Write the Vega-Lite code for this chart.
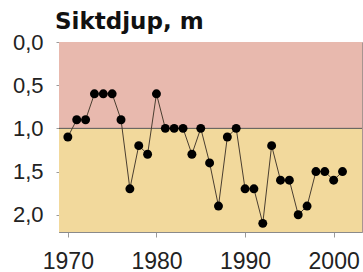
{
  "$schema": "https://vega.github.io/schema/vega-lite/v6.json",
  "width": 303,
  "height": 190,
  "autosize": {"type": "none"},
  "padding": {"left": 59, "top": 42, "right": 1, "bottom": 40},
  "background": "white",
  "config": {
    "view": {"stroke": "#a89490", "strokeWidth": 1},
    "font": "Liberation Sans",
    "axis": {"grid": false, "title": null, "labelFont": "Liberation Sans", "labelColor": "#222222", "domainColor": "#8a8a8a", "tickColor": "#9a9a9a"}
  },
  "title": {"text": "Siktdjup, m", "anchor": "start", "frame": "group", "align": "left", "fontSize": 23, "fontWeight": "bold", "font": "DejaVu Sans", "color": "#111111", "baseline": "alphabetic", "offset": 0, "dx": -4, "dy": 21},
  "layer": [
    {
      "data": {"values": [{"y0": 0, "y1": 1, "zone": "a"}, {"y0": 1, "y1": 2.2, "zone": "b"}]},
      "mark": {"type": "rect"},
      "encoding": {
        "y": {"field": "y0", "type": "quantitative", "scale": {"domain": [0, 2.2], "reverse": true, "nice": false}},
        "y2": {"field": "y1"},
        "color": {"field": "zone", "type": "nominal", "scale": {"domain": ["a", "b"], "range": ["#e8b9ae", "#f2d99c"]}, "legend": null}
      }
    },
    {
      "data": {"values": [{"v": 1}]},
      "mark": {"type": "rule", "color": "#555555", "strokeWidth": 1},
      "encoding": {"y": {"field": "v", "type": "quantitative"}}
    },
    {
      "data": {"values": [
        {"year": 1970, "depth": 1.1}, {"year": 1971, "depth": 0.9}, {"year": 1972, "depth": 0.9},
        {"year": 1973, "depth": 0.6}, {"year": 1974, "depth": 0.6}, {"year": 1975, "depth": 0.6},
        {"year": 1976, "depth": 0.9}, {"year": 1977, "depth": 1.7}, {"year": 1978, "depth": 1.2},
        {"year": 1979, "depth": 1.3}, {"year": 1980, "depth": 0.6}, {"year": 1981, "depth": 1.0},
        {"year": 1982, "depth": 1.0}, {"year": 1983, "depth": 1.0}, {"year": 1984, "depth": 1.3},
        {"year": 1985, "depth": 1.0}, {"year": 1986, "depth": 1.4}, {"year": 1987, "depth": 1.9},
        {"year": 1988, "depth": 1.1}, {"year": 1989, "depth": 1.0}, {"year": 1990, "depth": 1.7},
        {"year": 1991, "depth": 1.7}, {"year": 1992, "depth": 2.1}, {"year": 1993, "depth": 1.2},
        {"year": 1994, "depth": 1.6}, {"year": 1995, "depth": 1.6}, {"year": 1996, "depth": 2.0},
        {"year": 1997, "depth": 1.9}, {"year": 1998, "depth": 1.5}, {"year": 1999, "depth": 1.5},
        {"year": 2000, "depth": 1.6}, {"year": 2001, "depth": 1.5}
      ]},
      "encoding": {
        "x": {"field": "year", "type": "quantitative", "scale": {"domain": [1969, 2003.2], "nice": false, "zero": false},
              "axis": {"values": [1970, 1980, 1990, 2000], "format": "d", "tickSize": 5, "labelPadding": 13, "labelFontSize": 23}},
        "y": {"field": "depth", "type": "quantitative",
              "axis": {"values": [0, 0.5, 1, 1.5, 2], "tickSize": 3, "labelPadding": 13, "labelFontSize": 22, "labelExpr": "replace(format(datum.value, '.1f'), '.', ',')"}}
      },
      "layer": [
        {"mark": {"type": "line", "color": "#4a3e30", "strokeWidth": 1}},
        {"mark": {"type": "point", "filled": true, "color": "#000000", "opacity": 1, "size": 80}}
      ]
    }
  ]
}
